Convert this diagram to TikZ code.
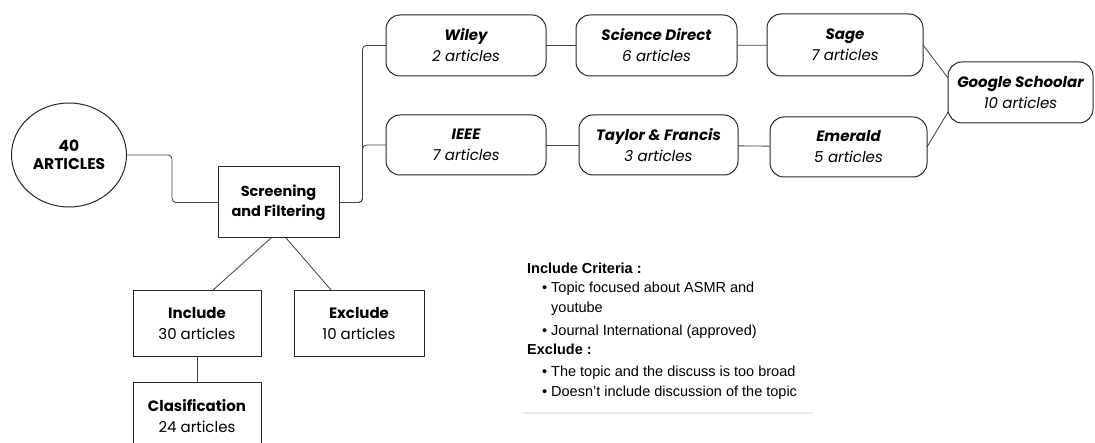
\documentclass[tikz,border=0pt]{standalone}
\usepackage{fontspec}
\setmainfont{Poppins}
\newfontfamily\crit{Liberation Sans}
\usetikzlibrary{shapes.geometric}
\tikzset{
  box/.style={draw=black!85, line width=1pt, rectangle, inner sep=0pt, outer sep=0pt, align=center, font=\fontsize{15}{21}\selectfont},
  rbox/.style={box, rounded corners=14pt},
  conn/.style={draw=black!75, line width=0.8pt},
  crittxt/.style={anchor=base west, inner sep=0pt, font=\crit\fontsize{14.5}{17}\selectfont},
}
\newcommand{\pub}[2]{{\bfseries\itshape #1}\\{\itshape #2}}
\newcommand{\cnt}[2]{{\bfseries #1}\\#2}
\begin{document}
\begin{tikzpicture}[x=1pt,y=-1pt]
\useasboundingbox (0,0) rectangle (1095,443);
% nodes
\node[box, ellipse, minimum width=115, minimum height=104, font=\bfseries\fontsize{15.5}{18}\selectfont] (art) at (69,155) {40\\ARTICLES};
\node[box, minimum width=121, minimum height=71, font=\bfseries\fontsize{14.5}{20}\selectfont] (scr) at (278.5,202.5) {Screening\\and Filtering};
\node[rbox, minimum width=160, minimum height=61] (wiley) at (466,45.5) {\pub{Wiley}{2 articles}};
\node[rbox, minimum width=161, minimum height=61] (sd) at (656.5,45.5) {\pub{Science Direct}{6 articles}};
\node[rbox, minimum width=156, minimum height=62] (sage) at (845,45) {\pub{Sage}{7 articles}};
\node[rbox, minimum width=160, minimum height=60] (ieee) at (466,145) {\pub{IEEE}{7 articles}};
\node[rbox, minimum width=159, minimum height=60] (tf) at (658.5,145) {\pub{Taylor \& Francis}{3 articles}};
\node[rbox, minimum width=157, minimum height=60] (em) at (848.5,147) {\pub{Emerald}{5 articles}};
\node[rbox, minimum width=145, minimum height=61] (gs) at (1020.5,92.5) {\pub{Google Schoolar}{10 articles}};
\node[box, minimum width=128, minimum height=66] (inc) at (197,324) {\cnt{Include}{30 articles}};
\node[box, minimum width=130, minimum height=66] (exc) at (359,324) {\cnt{Exclude}{10 articles}};
\node[box, minimum width=128, minimum height=66] (cls) at (197,416) {\cnt{Clasification}{24 articles}};
% connectors
\draw[conn, rounded corners=4pt] (art.east) -- ++(45.5,0) |- (scr.west);
\draw[conn, rounded corners=4pt] (scr.east) -- ++(23.5,0) |- (wiley.west);
\draw[conn, rounded corners=4pt] (scr.east) -- ++(23.5,0) |- (ieee.west);
\draw[conn] (wiley) -- (sd);
\draw[conn] (sd) -- (sage);
\draw[conn] (ieee) -- (tf);
\draw[conn] (tf) -- (em);
\draw[conn] (sage.east) -- ([yshift=14.5pt]gs.west);
\draw[conn] (em.east) -- ([yshift=-19.5pt]gs.west);
\draw[conn] ([xshift=-7.5pt]scr.south) -- ([xshift=15pt]inc.north);
\draw[conn] ([xshift=7.5pt]scr.south) -- ([xshift=-27pt]exc.north);
\draw[conn] (inc.south) -- (cls.north);
% criteria text
\draw[black!8, line width=1.2pt] (522,413) -- (813,413);
\node[crittxt] (c1) at (527,274) {\bfseries Include Criteria :};
\node[crittxt] (b1) at (542,293) {•};
\node[crittxt] (c2) at (551,293) {Topic focused about ASMR and};
\node[crittxt] (c3) at (551,313) {youtube};
\node[crittxt] (b2) at (542,336) {•};
\node[crittxt] (c4) at (551,336) {Journal International (approved)};
\node[crittxt] (c5) at (527,355) {\bfseries Exclude :};
\node[crittxt] (b3) at (542,377) {•};
\node[crittxt] (c6) at (551,377) {The topic and the discuss is too broad};
\node[crittxt] (b4) at (542,397) {•};
\node[crittxt] (c7) at (551,397) {Doesn’t include discussion of the topic};
\end{tikzpicture}
\end{document}
